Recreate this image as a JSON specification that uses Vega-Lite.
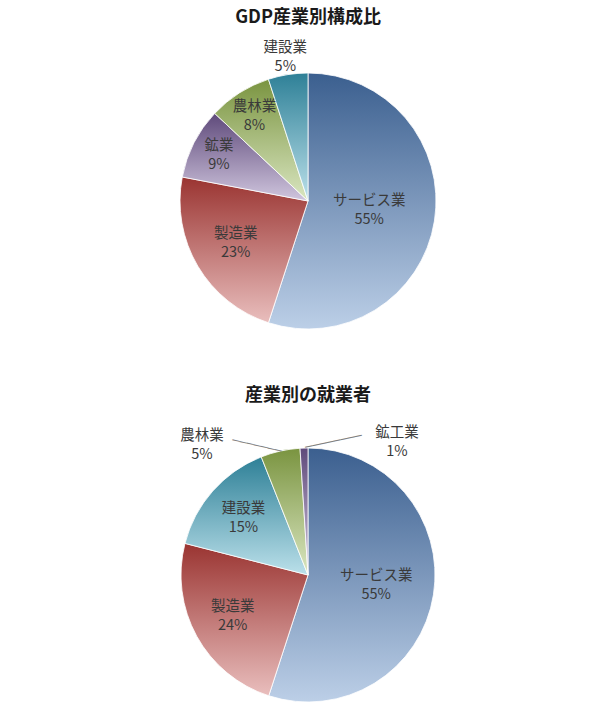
{
  "$schema": "https://vega.github.io/schema/vega-lite/v6.json",
  "padding": {"left": 16, "top": 9, "right": 0, "bottom": 0},
  "background": "#ffffff",
  "datasets": {
    "gdp": [
      {"name": "サービス業", "value": 55, "rank": 1},
      {"name": "製造業", "value": 23, "rank": 2},
      {"name": "鉱業", "value": 9, "rank": 3},
      {"name": "農林業", "value": 8, "rank": 4},
      {"name": "建設業", "value": 5, "rank": 5}
    ],
    "emp": [
      {"name": "サービス業", "value": 55, "rank": 1},
      {"name": "製造業", "value": 24, "rank": 2},
      {"name": "建設業", "value": 15, "rank": 3},
      {"name": "農林業", "value": 5, "rank": 4},
      {"name": "鉱工業", "value": 1, "rank": 5}
    ]
  },
  "spacing": 55,
  "vconcat": [
    {
      "title": {"text": "GDP産業別構成比", "offset": 13},
      "width": 584,
      "height": 256,
      "data": {"name": "gdp"},
      "transform": [{"calculate": "datum.name + '\\n' + datum.value + '%'", "as": "label"}],
      "encoding": {
        "theta": {"field": "value", "type": "quantitative", "stack": true, "scale": {"domain": [0, 100]}},
        "order": {"field": "rank", "type": "quantitative"},
        "detail": {"field": "name", "type": "nominal"}
      },
      "layer": [
        {
          "mark": {"type": "arc", "stroke": "#ffffff", "strokeWidth": 0.8},
          "encoding": {
            "color": {
              "condition": [
                {"test": "datum.name === 'サービス業'", "value": {"gradient": "linear", "x1": 0, "y1": 0, "x2": 0, "y2": 1, "stops": [{"offset": 0, "color": "#3b5f8f"}, {"offset": 1, "color": "#bccfe7"}]}},
                {"test": "datum.name === '製造業'", "value": {"gradient": "linear", "x1": 0, "y1": 0, "x2": 0, "y2": 1, "stops": [{"offset": 0, "color": "#9a3431"}, {"offset": 1, "color": "#e9bebd"}]}},
                {"test": "datum.name === '鉱業'", "value": {"gradient": "linear", "x1": 0, "y1": 0, "x2": 0, "y2": 1, "stops": [{"offset": 0, "color": "#5f4a7b"}, {"offset": 1, "color": "#d0c6de"}]}},
                {"test": "datum.name === '農林業'", "value": {"gradient": "linear", "x1": 0, "y1": 0, "x2": 0, "y2": 1, "stops": [{"offset": 0, "color": "#7a9440"}, {"offset": 1, "color": "#dae6c1"}]}}
              ],
              "value": {"gradient": "linear", "x1": 0, "y1": 0, "x2": 0, "y2": 1, "stops": [{"offset": 0, "color": "#2e8097"}, {"offset": 1, "color": "#bbe0ea"}]}
            }
          }
        },
        {
          "mark": {"type": "text", "radius": 62},
          "encoding": {"text": {"condition": {"test": "datum.name === 'サービス業'", "field": "label"}, "value": ""}}
        },
        {
          "mark": {"type": "text", "radius": 84},
          "encoding": {"text": {"condition": {"test": "datum.name === '製造業'", "field": "label"}, "value": ""}}
        },
        {
          "mark": {"type": "text", "radius": 100},
          "encoding": {"text": {"condition": {"test": "datum.name === '鉱業' || datum.name === '農林業'", "field": "label"}, "value": ""}}
        },
        {
          "mark": {"type": "text", "radius": 145},
          "encoding": {"text": {"condition": {"test": "datum.name === '建設業'", "field": "label"}, "value": ""}}
        }
      ]
    },
    {
      "title": {"text": "産業別の就業者", "offset": -3},
      "width": 584,
      "height": 254,
      "data": {"name": "emp"},
      "transform": [{"calculate": "datum.name + '\\n' + datum.value + '%'", "as": "label"}],
      "encoding": {
        "theta": {"field": "value", "type": "quantitative", "stack": true, "scale": {"domain": [0, 100]}},
        "order": {"field": "rank", "type": "quantitative"},
        "detail": {"field": "name", "type": "nominal"}
      },
      "layer": [
        {
          "mark": {"type": "arc", "stroke": "#ffffff", "strokeWidth": 0.8},
          "encoding": {
            "color": {
              "condition": [
                {"test": "datum.name === 'サービス業'", "value": {"gradient": "linear", "x1": 0, "y1": 0, "x2": 0, "y2": 1, "stops": [{"offset": 0, "color": "#3b5f8f"}, {"offset": 1, "color": "#bccfe7"}]}},
                {"test": "datum.name === '製造業'", "value": {"gradient": "linear", "x1": 0, "y1": 0, "x2": 0, "y2": 1, "stops": [{"offset": 0, "color": "#9a3431"}, {"offset": 1, "color": "#e9bebd"}]}},
                {"test": "datum.name === '鉱工業'", "value": {"gradient": "linear", "x1": 0, "y1": 0, "x2": 0, "y2": 1, "stops": [{"offset": 0, "color": "#5f4a7b"}, {"offset": 1, "color": "#d0c6de"}]}},
                {"test": "datum.name === '農林業'", "value": {"gradient": "linear", "x1": 0, "y1": 0, "x2": 0, "y2": 1, "stops": [{"offset": 0, "color": "#7a9440"}, {"offset": 1, "color": "#dae6c1"}]}}
              ],
              "value": {"gradient": "linear", "x1": 0, "y1": 0, "x2": 0, "y2": 1, "stops": [{"offset": 0, "color": "#2e8097"}, {"offset": 1, "color": "#bbe0ea"}]}
            }
          }
        },
        {
          "mark": {"type": "text", "radius": 69},
          "encoding": {"text": {"condition": {"test": "datum.name === 'サービス業'", "field": "label"}, "value": ""}}
        },
        {
          "mark": {"type": "text", "radius": 86},
          "encoding": {"text": {"condition": {"test": "datum.name === '製造業' || datum.name === '建設業'", "field": "label"}, "value": ""}}
        },
        {
          "mark": {"type": "text", "radius": 167, "thetaOffset": -0.468},
          "encoding": {"text": {"condition": {"test": "datum.name === '農林業'", "field": "label"}, "value": ""}}
        },
        {
          "mark": {"type": "text", "radius": 160, "thetaOffset": 0.621},
          "encoding": {"text": {"condition": {"test": "datum.name === '鉱工業'", "field": "label"}, "value": ""}}
        },
        {
          "mark": {"type": "text", "radius": 139, "thetaOffset": -0.155, "angle": 13, "dy": 0, "font": "DejaVu Sans", "fontSize": 12, "color": "#808080"},
          "encoding": {"text": {"condition": {"test": "datum.name === '農林業'", "value": "───────"}, "value": ""}}
        },
        {
          "mark": {"type": "text", "radius": 136, "thetaOffset": 0.22, "angle": 348, "dy": 0, "font": "DejaVu Sans", "fontSize": 12, "color": "#808080"},
          "encoding": {"text": {"condition": {"test": "datum.name === '鉱工業'", "value": "────────"}, "value": ""}}
        }
      ]
    }
  ],
  "config": {
    "view": {"stroke": null},
    "font": "Noto Sans CJK JP",
    "title": {"font": "Noto Sans CJK JP", "fontSize": 18, "fontWeight": "bold", "color": "#1a1a1a", "anchor": "middle"},
    "text": {"font": "Noto Sans CJK JP", "fontSize": 14.5, "lineBreak": "\n", "lineHeight": 19, "dy": -9.5, "color": "#3a3a3a"}
  }
}
